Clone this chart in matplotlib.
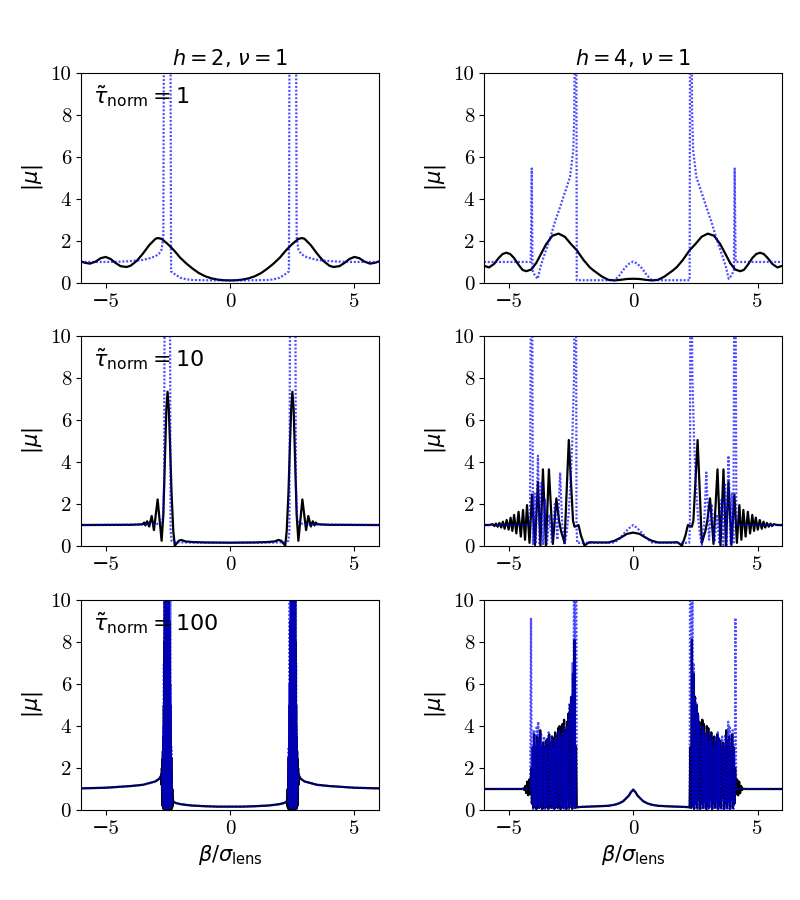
import numpy as np
import matplotlib
matplotlib.use("Agg")
import matplotlib.pyplot as plt

plt.rcParams['font.family'] = ['cmr10', 'DejaVu Sans']
plt.rcParams['mathtext.fontset'] = 'dejavusans'
plt.rcParams['axes.unicode_minus'] = True
plt.rcParams['axes.formatter.use_mathtext'] = False

col_titles = [r"$h=2$, $\nu=1$", r"$h=4$, $\nu=1$"]
tau_labels = [r"$\tilde{\tau}_{\rm norm}=1$", r"$\tilde{\tau}_{\rm norm}=10$",
              r"$\tilde{\tau}_{\rm norm}=100$"]
x_ticks = [-5, 0, 5]
y_ticks = [0, 2, 4, 6, 8, 10]
x_label = r"$\beta/\sigma_{\rm lens}$"
y_label = r"$|\mu|$"

# ---------- values read for beta <= 0 (the curves are mirror-symmetric) ----------
# h=2, tau=1
A_black_x = [-6.0, -5.83, -5.63, -5.4, -5.2, -5.0, -4.8, -4.6, -4.4, -4.16, -4.0, -3.75, -3.5,
             -3.25, -3.0, -2.9, -2.75, -2.5, -2.25, -2.0, -1.75, -1.5, -1.25, -1.0, -0.75,
             -0.5, -0.25, 0.0]
A_black_y = [1.03, 0.96, 0.92, 1.02, 1.18, 1.24, 1.14, 0.95, 0.8, 0.76, 0.82, 1.05, 1.4,
             1.8, 2.1, 2.14, 2.1, 1.85, 1.55, 1.2, 0.92, 0.68, 0.47, 0.32, 0.22,
             0.16, 0.13, 0.12]
A_blue_x = [-6.0, -5.0, -4.5, -4.0, -3.5, -3.25, -3.0, -2.85, -2.75, -2.68, -2.64, -2.41,
            -2.37, -2.2, -2.0, -1.75, -1.5, -1.0, -0.5, 0.0]
A_blue_y = [1.0, 1.0, 1.01, 1.04, 1.1, 1.17, 1.27, 1.4, 1.6, 2.2, 20, 20,
            0.55, 0.4, 0.25, 0.17, 0.14, 0.13, 0.12, 0.12]

# h=4, tau=1
B_black_x = [-6.0, -5.8, -5.6, -5.4, -5.25, -5.1, -4.95, -4.8, -4.6, -4.45, -4.3, -4.1, -3.9,
             -3.7, -3.5, -3.25, -3.0, -2.75, -2.5, -2.27, -2.0, -1.75, -1.6, -1.25, -1.0,
             -0.75, -0.5, -0.25, 0.0]
B_black_y = [0.82, 0.74, 0.9, 1.2, 1.38, 1.44, 1.38, 1.2, 0.85, 0.62, 0.56, 0.64, 0.95,
             1.4, 1.85, 2.25, 2.35, 2.2, 1.85, 1.56, 1.1, 0.75, 0.6, 0.3, 0.15,
             0.12, 0.15, 0.19, 0.2]
B_blue_x = [-6.0, -4.12, -4.08, -4.05, -3.95, -3.84, -3.73, -3.6, -3.45, -3.33, -3.15, -2.94,
            -2.75, -2.54, -2.41, -2.37, -2.33, -2.29, -2.27, -1.0, -0.75, -0.55, -0.33,
            -0.16, 0.0]
B_blue_y = [1.0, 1.0, 5.45, 0.6, 0.35, 0.2, 0.76, 1.24, 1.75, 2.19, 2.9, 3.62,
            4.3, 5.05, 6.32, 8.0, 15, 15, 0.13, 0.13, 0.13, 0.37, 0.73,
            0.92, 1.02]

# h=2, tau=10
C_black_x = [-6.0, -4.0, -3.6, -3.5, -3.45, -3.4, -3.33, -3.25, -3.15, -3.06, -2.91, -2.75,
             -2.68, -2.62, -2.56, -2.51, -2.46, -2.41, -2.35, -2.28, -2.22, -2.15, -2.06,
             -1.95, -1.8, -1.5, -1.0, 0.0]
C_black_y = [1.0, 1.01, 1.03, 1.05, 1.12, 0.98, 1.18, 0.93, 1.43, 0.76, 2.22, 0.25,
             1.5, 4.0, 6.5, 7.35, 6.5, 4.8, 2.5, 0.7, 0.02, 0.12, 0.25,
             0.29, 0.22, 0.19, 0.17, 0.16]
C_blue_x = [-6.0, -3.0, -2.8, -2.7, -2.65, -2.61, -2.43, -2.39, -2.35, -2.2, -1.5, 0.0]
C_blue_y = [1.0, 1.03, 1.1, 1.3, 3.0, 20, 20, 0.8, 0.25, 0.18, 0.16, 0.15]

# h=4, tau=10
D_black_x = [-6.0, -5.8, -5.65, -5.58, -5.52, -5.45, -5.38, -5.31, -5.24, -5.17, -5.09, -5.01,
             -4.93, -4.86, -4.79, -4.70, -4.61, -4.52, -4.43, -4.35, -4.27, -4.17, -4.07,
             -3.95, -3.83, -3.73, -3.63, -3.51, -3.39, -3.23, -3.09, -2.98, -2.90, -2.76,
             -2.68, -2.59, -2.50, -2.42, -2.36, -2.28, -2.20, -2.10, -1.96, -1.85, -1.76,
             -1.50, -1.00, -0.75, -0.50, -0.25, 0.0]
D_black_y = [1.0, 1.0, 1.04, 0.95, 1.07, 0.92, 1.1, 0.88, 1.16, 0.82, 1.24, 0.78,
             1.35, 0.72, 1.48, 0.6, 1.63, 0.45, 1.72, 0.3, 1.95, 0.15, 2.45,
             0.05, 3.06, 0.02, 3.65, 0.02, 3.65, 0.1, 2.27, 1.2, 0.7, 0.15,
             2.5, 5.05, 3.0, 1.2, 0.92, 0.95, 1.0, 0.5, 0.02, 0.12, 0.18,
             0.17, 0.17, 0.25, 0.4, 0.58, 0.64]
D_blue_x = [-6.0, -4.15, -4.11, -4.07, -4.03, -3.97, -3.92, -3.83, -3.76, -3.69, -3.62, -3.55,
            -3.47, -3.37, -3.27, -3.15, -3.05, -2.94, -2.85, -2.76, -2.68, -2.6, -2.52,
            -2.45, -2.38, -2.34, -2.30, -2.28, -2.25, -2.0, -1.0, -0.75, -0.55, -0.33,
            -0.16, 0.0]
D_blue_y = [1.0, 1.0, 15, 15, 0.1, 2.5, 0.1, 4.3, 0.05, 3.0, 0.05, 2.2,
            0.1, 1.5, 0.2, 2.0, 0.3, 3.5, 1.0, 0.05, 0.6, 1.5, 3.0,
            5.0, 8.0, 15, 15, 0.9, 0.15, 0.15, 0.15, 0.17, 0.35, 0.65,
            0.85, 1.0]

# h=2, tau=100
E_black_x1 = [-6.0, -5.0, -4.0, -3.5, -3.0, -2.85, -2.78]
E_black_y1 = [1.03, 1.06, 1.14, 1.2, 1.36, 1.48, 1.62]
E_black_band = [1.7, 1.2, 2.0, 0.5, 2.4, 0.2, 2.8, 0.1, 3.5, 0.05,
                5.0, 0.1, 8.0, 0.05, 11, 0.1, 13, 0.05, 14, 0.1, 14, 0.05, 13, 0.1, 14,
                0.05, 12, 0.1, 13, 0.05, 11, 0.1, 9, 0.05, 7, 0.1, 5, 0.05, 3.5, 0.1,
                2.5, 0.05, 1.6, 0.1, 1.0, 0.2, 0.6, 0.4]
E_black_band_range = (-2.76, -2.29)
E_black_x2 = [-2.27, -2.2, -2.0, -1.75, -1.5, -1.0, -0.5, 0.0]
E_black_y2 = [0.4, 0.34, 0.28, 0.24, 0.21, 0.18, 0.16, 0.16]
E_blue_x1 = [-6.0, -5.0, -4.0, -3.5, -3.0, -2.85, -2.75]
E_blue_y1 = [1.03, 1.06, 1.14, 1.2, 1.36, 1.48, 1.66]
E_blue_band = [1.8, 0.8, 2.5, 0.3, 4.0, 0.2, 7.0, 0.1, 12, 0.1,
               20, 0.1, 20, 0.1, 20, 0.2, 20, 0.1, 20, 0.1,
               20, 0.1, 20, 0.2, 20, 0.1, 20, 0.1, 20, 0.1,
               15, 0.1, 10, 0.2, 6.0, 0.3, 3.0, 0.4, 1.5, 0.4]
E_blue_band_range = (-2.72, -2.33)
E_blue_x2 = [-2.3, -2.2, -2.0, -1.75, -1.5, -1.0, -0.5, 0.0]
E_blue_y2 = [0.42, 0.34, 0.28, 0.24, 0.21, 0.18, 0.16, 0.16]

# h=4, tau=100
F_black_x1 = [-6.0, -5.0, -4.5, -4.42, -4.38, -4.34, -4.30, -4.26, -4.22, -4.18, -4.14]
F_black_y1 = [1.0, 1.0, 1.0, 1.02, 0.95, 1.15, 0.8, 1.35, 0.7, 1.45, 0.75]
F_black_peaks = [2.0, 3.0, 3.6, 3.0, 3.5, 3.3, 3.8, 3.0, 3.2, 3.0, 3.3, 3.4, 3.6, 3.2, 3.5,
                 3.4, 3.7, 3.5, 3.9, 4.0, 3.6, 4.1, 4.3, 3.8, 4.2, 4.6, 5.0, 5.4, 6.5, 8.1,
                 3.0]
F_black_troughs = [0.3, 0.1, 0.5, 0.05, 0.4, 0.1, 0.3, 0.05, 0.6, 0.1, 0.2, 0.05, 0.4, 0.1,
                   0.3, 0.05, 0.5, 0.1, 0.2, 0.05, 0.4, 0.1, 0.3, 0.05, 0.5, 0.1, 0.3, 0.05,
                   0.2, 0.1]
F_black_band_range = (-4.10, -2.30)
F_black_x2 = [-2.27, -2.2, -2.0, -1.5, -1.0, -0.75, -0.56, -0.4, -0.29, -0.18, -0.09, 0.0]
F_black_y2 = [0.12, 0.14, 0.15, 0.17, 0.2, 0.25, 0.32, 0.42, 0.55, 0.68, 0.85, 0.97]
F_blue_x1 = [-6.0, -5.0, -4.5, -4.3, -4.14, -4.11, -4.08]
F_blue_y1 = [1.0, 1.0, 1.0, 1.0, 1.0, 9.15, 0.3]
F_blue_peaks = [3.0, 3.8, 3.2, 4.0, 4.2, 3.4, 3.6, 3.1, 3.5, 3.0, 3.4, 3.7, 3.2, 3.5, 3.0,
                3.4, 3.6, 3.3, 3.8, 3.5, 3.7, 4.0, 3.6, 4.0, 4.5, 5.1, 5.4, 7.0, 12, 15]
F_blue_troughs = [0.05, 0.2, 0.0, 0.3, 0.05, 0.1, 0.0, 0.4, 0.05, 0.2, 0.0, 0.1, 0.3, 0.05,
                  0.0, 0.2, 0.1, 0.0, 0.3, 0.05, 0.1, 0.0, 0.2, 0.05, 0.0, 0.3, 0.1, 0.2, 0.1]
F_blue_band_range = (-4.06, -2.32)
F_blue_x2 = [-2.29, -2.27, -2.2, -2.0, -1.5, -1.0, -0.75, -0.56, -0.4, -0.29, -0.18, -0.09, 0.0]
F_blue_y2 = [15, 0.15, 0.14, 0.15, 0.17, 0.2, 0.25, 0.32, 0.42, 0.55, 0.68, 0.85, 0.97]


def interleave(peaks, troughs):
    out = []
    for i, p in enumerate(peaks):
        out.append(p)
        if i < len(troughs):
            out.append(troughs[i])
    return out


def with_band(x1, y1, band_vals, band_range, x2, y2):
    bx = np.linspace(band_range[0], band_range[1], len(band_vals))
    return (np.concatenate([x1, bx, x2]), np.concatenate([y1, band_vals, y2]))


def mirror(x, y):
    x = np.asarray(x, float)
    y = np.asarray(y, float)
    return (np.concatenate([x, -x[::-1][1:]]), np.concatenate([y, y[::-1][1:]]))


curves = [
    [(A_black_x, A_black_y), (A_blue_x, A_blue_y)],
    [(B_black_x, B_black_y), (B_blue_x, B_blue_y)],
    [(C_black_x, C_black_y), (C_blue_x, C_blue_y)],
    [(D_black_x, D_black_y), (D_blue_x, D_blue_y)],
    [with_band(E_black_x1, E_black_y1, E_black_band, E_black_band_range, E_black_x2, E_black_y2),
     with_band(E_blue_x1, E_blue_y1, E_blue_band, E_blue_band_range, E_blue_x2, E_blue_y2)],
    [with_band(F_black_x1, F_black_y1, interleave(F_black_peaks, F_black_troughs),
               F_black_band_range, F_black_x2, F_black_y2),
     with_band(F_blue_x1, F_blue_y1, interleave(F_blue_peaks, F_blue_troughs),
               F_blue_band_range, F_blue_x2, F_blue_y2)],
]

fig = plt.figure(figsize=(8, 9), dpi=100)
lefts = [0.101, 0.605]
bottoms = [0.6856, 0.3933, 0.1]
w, h = 0.373, 0.2333

for r in range(3):
    for c in range(2):
        ax = fig.add_axes([lefts[c], bottoms[r], w, h])
        (bx, by), (ux, uy) = curves[2 * r + c]
        bx, by = mirror(bx, by)
        ux, uy = mirror(ux, uy)
        ax.plot(bx, by, color='black', lw=1.6)
        ax.plot(ux, uy, color='blue', alpha=0.7, lw=1.6, linestyle=(0, (0.9, 0.8)))
        ax.set_xlim(-6, 6)
        ax.set_ylim(0, 10)
        ax.set_xticks(x_ticks)
        ax.set_yticks(y_ticks)
        ax.tick_params(labelsize=15)
        ax.set_ylabel(y_label, fontsize=15, family='DejaVu Sans')
        if r == 0:
            ax.set_title(col_titles[c], fontsize=15, family='DejaVu Sans')
        if r == 2:
            ax.set_xlabel(x_label, fontsize=15, family='DejaVu Sans')
        if c == 0:
            ax.text(0.04, 0.95, tau_labels[r], transform=ax.transAxes, fontsize=16,
                    va='top', ha='left', family='DejaVu Sans')

fig.savefig("out.png", dpi=100)
